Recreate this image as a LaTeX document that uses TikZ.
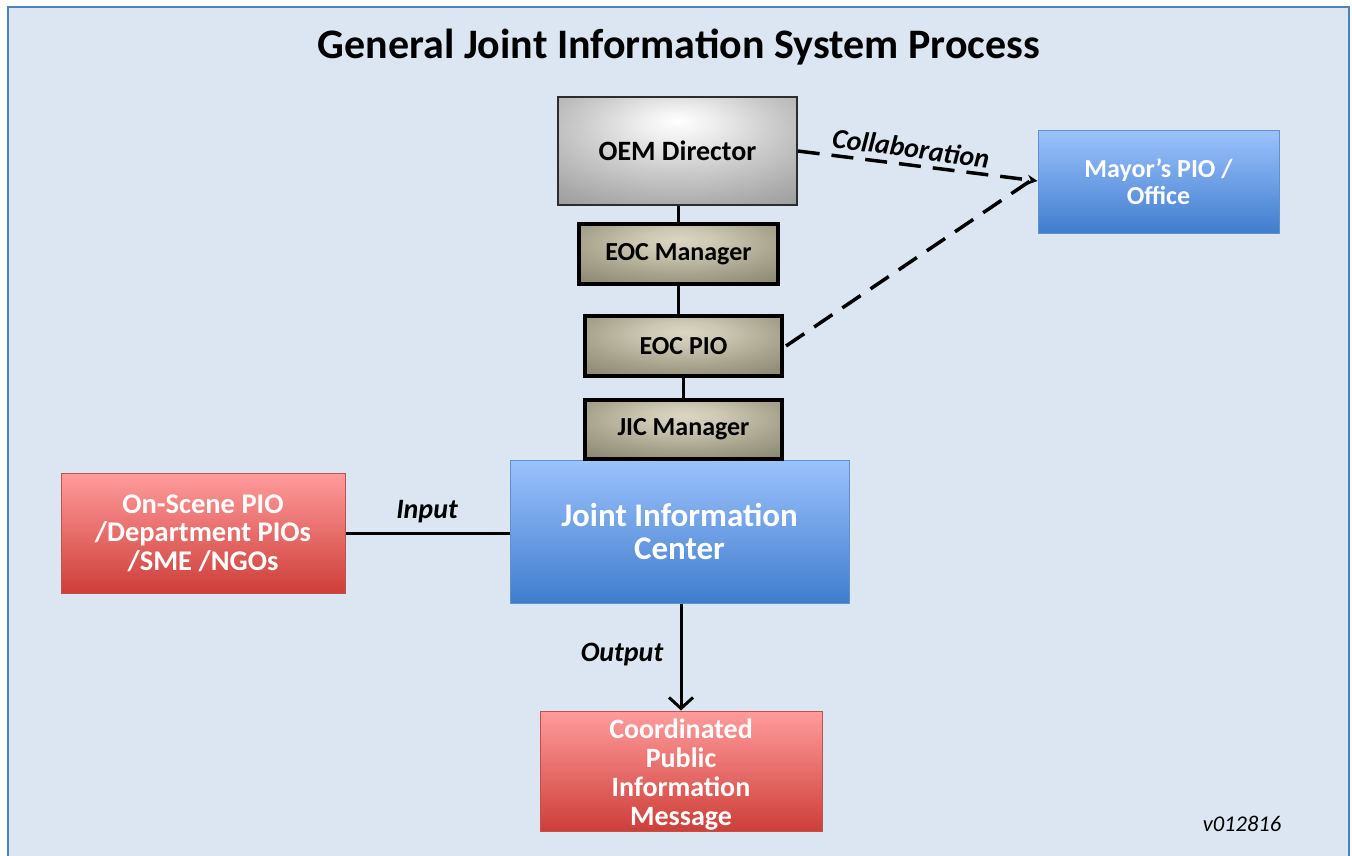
\documentclass[tikz,border=0pt]{standalone}
\usepackage{fontspec}
\setmainfont{Carlito}
\usetikzlibrary{arrows.meta}
\definecolor{panelfill}{RGB}{220,230,242}
\definecolor{panelline}{RGB}{79,129,189}
\definecolor{bluetop}{RGB}{155,194,252}
\definecolor{bluebot}{RGB}{64,125,206}
\definecolor{blueline}{RGB}{95,145,205}
\definecolor{redtop}{RGB}{255,156,156}
\definecolor{redbot}{RGB}{206,62,56}
\definecolor{redline}{RGB}{190,80,78}
\pgfdeclareradialshading{oemshade}{\pgfpoint{0bp}{14bp}}{%
  rgb(0bp)=(1,1,1); rgb(8bp)=(0.93,0.93,0.93); rgb(20bp)=(0.80,0.80,0.80);
  rgb(35bp)=(0.66,0.66,0.66); rgb(50bp)=(0.55,0.55,0.55); rgb(75bp)=(0.45,0.45,0.45); rgb(90bp)=(0.43,0.43,0.43)}
\pgfdeclareradialshading{tanshade}{\pgfpoint{0bp}{12bp}}{%
  rgb(0bp)=(0.86,0.84,0.76); rgb(10bp)=(0.80,0.78,0.70); rgb(25bp)=(0.66,0.64,0.55);
  rgb(40bp)=(0.54,0.52,0.44); rgb(60bp)=(0.45,0.43,0.36); rgb(90bp)=(0.40,0.38,0.31)}
\tikzset{
  boxtext/.style={font=\bfseries, align=center, inner sep=0pt},
  oembox/.style={boxtext, draw={rgb,255:red,45;green,45;blue,45}, line width=1.5pt, shading=oemshade, text=black, font=\fontsize{28}{33}\selectfont\bfseries},
  tanbox/.style={boxtext, draw=black, line width=4pt, shading=tanshade, text=black, font=\fontsize{26}{31}\selectfont\bfseries},
  bluebox/.style={boxtext, draw=blueline, line width=1pt, top color=bluetop, bottom color=bluebot, text=white},
  redbox/.style={boxtext, draw=redline, line width=1pt, top color=redtop, bottom color=redbot, text=white},
  conn/.style={line width=3pt, draw=black},
  dashconn/.style={line width=3.5pt, draw=black, dash pattern=on 22pt off 12pt},
  lbl/.style={font=\fontsize{28}{32}\selectfont\bfseries\itshape, inner sep=0pt}
}
\begin{document}
\begin{tikzpicture}[x=1pt,y=-1pt]
\useasboundingbox (0,0) rectangle (1352,856);
\begin{scope}
\clip (0,0) rectangle (1352,856);
\fill[white] (0,0) rectangle (1352,856);
\draw[fill=panelfill, draw=panelline, line width=2.5pt] (8,7) rectangle (1349,880);
\end{scope}
\node[font=\fontsize{42}{48}\selectfont\bfseries] (title) at (679,47) {General Joint Information System Process};

\node[oembox, minimum width=239pt, minimum height=108pt] (oem) at (677.5,151) {OEM Director};
\node[tanbox, minimum width=199pt, minimum height=60pt] (eocm) at (678.5,254) {EOC Manager};
\node[tanbox, minimum width=197pt, minimum height=60pt] (eocp) at (683.5,346) {EOC PIO};
\node[bluebox, minimum width=339pt, minimum height=143pt, font=\fontsize{33}{33}\selectfont\bfseries] (jic) at (679.5,531.5) {Joint Information\\Center};
\node[tanbox, minimum width=197pt, minimum height=59pt] (jicm) at (683.5,429.5) {JIC Manager};
\node[bluebox, minimum width=241pt, minimum height=102pt, font=\fontsize{26}{27}\selectfont\bfseries] (mayor) at (1158.5,182) {Mayor’s PIO /\\Office};
\node[redbox, minimum width=284pt, minimum height=120pt, font=\fontsize{28.5}{28.5}\selectfont\bfseries] (scene) at (203,533) {On-Scene PIO\\/Department PIOs\\/SME /NGOs};
\node[redbox, minimum width=282pt, minimum height=120pt, font=\fontsize{28}{29}\selectfont\bfseries] (msg) at (681,771) {\rule{0pt}{26pt}Coordinated\\Public\\Information\\Message};

\draw[conn] (oem.south -| eocm.north) -- (eocm.north);
\draw[conn] (eocm.south) -- (eocm.south |- eocp.north);
\draw[conn] (eocp.south) -- (jicm.north);
\draw[conn] (scene.east) -- (jic.west |- scene.east);
\draw[conn, -{Straight Barb[length=11pt,width=24pt]}] (msg.north |- jic.south) -- (msg.north);
\draw[dashconn, -{Stealth[length=10pt,width=10pt]}] (oem.east) -- ([yshift=1pt]mayor.west);
\draw[dashconn] ([xshift=2pt]eocp.east) -- ([xshift=-3pt,yshift=4pt]mayor.west);

\node[lbl, rotate=-7.6] (collab) at (911,148) {Collaboration};
\node[lbl] (inlbl) at (427,512) {Input};
\node[lbl] (outlbl) at (622,655) {Output};
\node[font=\fontsize{22.5}{25}\selectfont\itshape, inner sep=0pt] (ver) at (1242,824) {v012816};
\end{tikzpicture}
\end{document}
